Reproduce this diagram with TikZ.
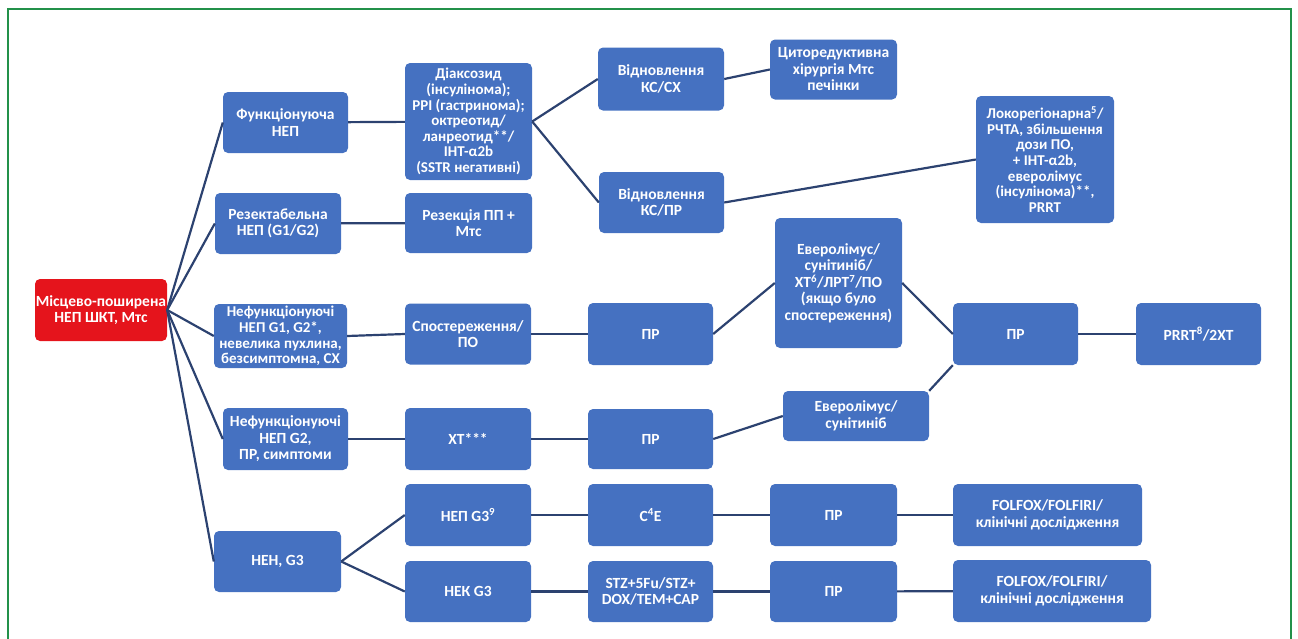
\documentclass[tikz,border=0pt]{standalone}
\usepackage{fontspec}
\setmainfont{Carlito}
\definecolor{boxblue}{HTML}{4571C1}
\definecolor{boxred}{HTML}{E5141C}
\definecolor{linec}{HTML}{2C4270}
\definecolor{framec}{HTML}{23914A}
\begin{document}
\begin{tikzpicture}[x=1pt,y=-1pt,
  box/.style={fill=boxblue, rounded corners=5pt, text=white,
    font=\bfseries\fontsize{15.5}{16.5}\selectfont, align=center, inner sep=0pt},
  tight/.style={font=\bfseries\fontsize{15}{15.6}\selectfont},
  sz/.style 2 args={minimum width=#1pt, minimum height=#2pt},
  conn/.style={draw=linec, line width=2.2pt}]
\useasboundingbox (0,0) rectangle (1298,638);
\draw[framec, line width=2.5pt] (8,645) -- (8,9) -- (1291,9) -- (1291,645);

% root
\node[box, fill=boxred, sz={132}{62}] (root) at (101,310) {Місцево-поширена\\НЕП ШКТ, Мтс};

% column 1
\node[box, sz={125}{61}] (f1) at (285.5,122.5) {Функціонуюча\\НЕП};
\node[box, sz={126}{61}] (f2) at (278,223.5) {Резектабельна\\НЕП (G1/G2)};
\node[box, tight, sz={133}{64}] (f3) at (280.5,336) {Нефункціонуючі\\НЕП G1, G2*,\\невелика пухлина,\\безсимптомна, СХ};
\node[box, sz={125}{62}] (f4) at (285.5,439) {Нефункціонуючі\\НЕП G2,\\ПР, симптоми};
\node[box, sz={127}{61}] (f5) at (277.5,561.5) {НЕН, G3};

% column 2
\node[box, tight, sz={127}{117}] (c1) at (468.5,121.5) {Діаксозид\\(інсулінома);\\PPI (гастринома);\\октреотид/\\ланреотид**/\\ІНТ-α2b\\(SSTR негативні)};
\node[box, sz={127}{60}] (c2) at (468.5,223) {Резекція ПП +\\Мтс};
\node[box, sz={126}{61}] (c3) at (468,334) {Спостереження/\\ПО};
\node[box, sz={126}{62}] (c4) at (468,439) {ХТ***};
\node[box, sz={126}{62}] (c5) at (468,515) {НЕП G3\textsuperscript{9}};
\node[box, sz={126}{61}] (c6) at (468,591.5) {НЕК G3};

% column 3
\node[box, sz={126}{63}] (d1) at (661,79) {Відновлення\\КС/СХ};
\node[box, sz={125}{61}] (d2) at (661.5,202.5) {Відновлення\\КС/ПР};
\node[box, sz={125}{62}] (d3) at (650.5,334) {ПР};
\node[box, sz={125}{60}] (d4) at (650.5,439) {ПР};
\node[box, sz={125}{62}] (d5) at (650.5,515) {C\textsuperscript{4}E};
\node[box, sz={125}{61}] (d6) at (650.5,591.5) {STZ+5Fu/STZ+\\DOX/TEM+CAP};

% column 4
\node[box, sz={127}{60}] (e1) at (833.5,69.5) {Циторедуктивна\\хірургія Мтс\\печінки};
\node[box, sz={127}{130}] (e2) at (838.5,283) {Еверолімус/\\сунітиніб/\\ХТ\textsuperscript{6}/ЛРТ\textsuperscript{7}/ПО\\(якщо було\\спостереження)};
\node[box, sz={146}{50}] (e3) at (856,416) {Еверолімус/\\сунітиніб};
\node[box, sz={127}{62}] (e4) at (833.5,515) {ПР};
\node[box, sz={127}{61}] (e5) at (833.5,591.5) {ПР};

% column 5
\node[box, tight, sz={138}{127}] (g1) at (1045,159.5) {Локорегіонарна\textsuperscript{5}/\\РЧТА, збільшення\\дози ПО,\\+ ІНТ-α2b,\\еверолімус\\(інсулінома)**,\\PRRT};
\node[box, sz={125}{62}] (h1) at (1015.5,334) {ПР};
\node[box, sz={189}{62}] (h2) at (1047.5,515) {FOLFOX/FOLFIRI/\\клінічні дослідження};
\node[box, sz={198}{62}] (h3) at (1052,591) {FOLFOX/FOLFIRI/\\клінічні дослідження};
\node[box, sz={125}{62}] (i1) at (1198.5,334) {PRRT\textsuperscript{8}/2ХТ};

% connectors
\foreach \t in {f1,f2,f3,f4,f5} \draw[conn] (root.east) -- (\t.west);
\draw[conn] (f1) -- (c1);
\draw[conn] (f2) -- (c2);
\draw[conn] (f3.east) -- (c3.west);
\draw[conn] (f4) -- (c4);
\draw[conn] (c1.east) -- (d1.west);
\draw[conn] (c1.east) -- (d2.west);
\draw[conn] (d1.east) -- (e1.west);
\draw[conn] (d2.east) -- (g1.west);
\draw[conn] (c3) -- (d3);
\draw[conn] (d3.east) -- (e2.west);
\draw[conn] (e2.east) -- (h1.west);
\draw[conn] (e3.north east) -- (h1.south west);
\draw[conn] (h1) -- (i1);
\draw[conn] (c4) -- (d4);
\draw[conn] (d4.east) -- (e3.west);
\draw[conn] (f5.east) -- (c5.west);
\draw[conn] (f5.east) -- (c6.west);
\draw[conn] (c5) -- (d5);
\draw[conn] (d5) -- (e4);
\draw[conn] (e4) -- (h2);
\draw[conn] (c6) -- (d6);
\draw[conn] (d6) -- (e5);
\draw[conn] (e5) -- (h3);
\end{tikzpicture}
\end{document}
